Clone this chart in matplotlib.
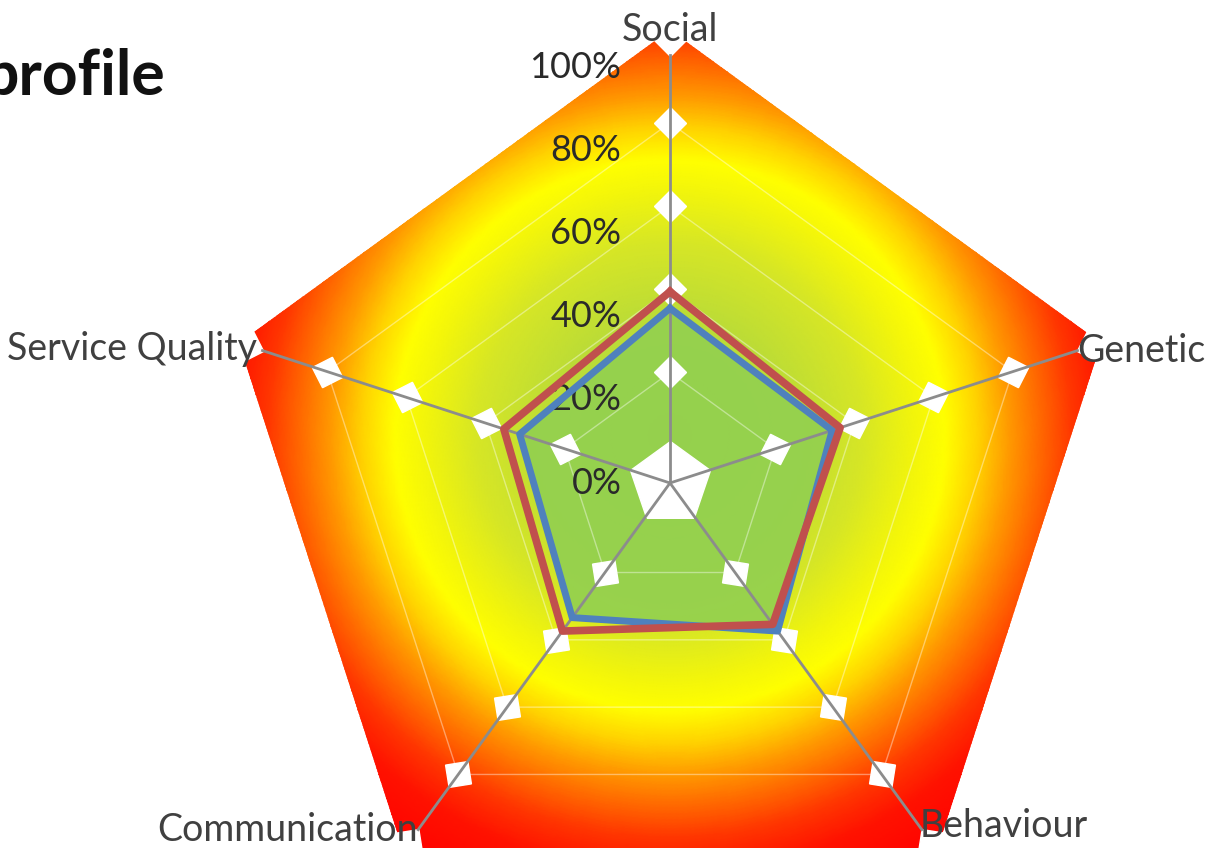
import numpy as np
import matplotlib
matplotlib.use("Agg")
import matplotlib.pyplot as plt
from matplotlib.colors import LinearSegmentedColormap, Normalize

# ---------------------------------------------------------------------------
# Data
# ---------------------------------------------------------------------------
categories = ["Social", "Genetic", "Behaviour", "Communication", "Service Quality"]
series_blue = [0.42, 0.41, 0.44, 0.40, 0.38]
series_red = [0.46, 0.43, 0.42, 0.44, 0.42]
tick_values = [0.0, 0.2, 0.4, 0.6, 0.8, 1.0]
tick_labels = ["0%", "20%", "40%", "60%", "80%", "100%"]
marker_levels = [0.266, 0.466, 0.666, 0.866, 1.066]
title = "profile"

# ---------------------------------------------------------------------------
# Layout (px)
# ---------------------------------------------------------------------------
W, H = 1209, 848
cx, cy = 670, 483          # chart centre, from top-left
unit = 416                 # px per 1.0 (100%)
rmax = 1.2
R_BG = 1.09

fig = plt.figure(figsize=(W / 100, H / 100), dpi=100)
side = 2 * rmax * unit
ax = fig.add_axes([(cx - side / 2) / W, (H - cy - side / 2) / H, side / W, side / H],
                  projection="polar")
ax.set_theta_zero_location("N")
ax.set_theta_direction(-1)
ax.set_ylim(0, rmax)
ax.axis("off")

n = len(categories)
angles = np.arange(n) * 2 * np.pi / n
closed = np.r_[angles, angles[:1]]

# background pentagon with radial gradient (centre slightly above chart centre)
stops = [(0.00, "#b2d93c"), (0.30, "#bcdc36"), (0.48, "#d6e626"), (0.62, "#f4f60a"),
         (0.69, "#ffff00"), (0.77, "#ffd400"), (0.85, "#ff9a00"), (0.93, "#ff6800"),
         (1.01, "#ff3600"), (1.10, "#ff1200"), (1.25, "#ff0000")]
grad = LinearSegmentedColormap.from_list("grad", [(p / 1.25, c) for p, c in stops])
T, Rg = np.meshgrid(np.linspace(0, 2 * np.pi, 361), np.linspace(0, R_BG + 0.02, 160))
gx, gy = Rg * np.sin(T), Rg * np.cos(T)
D = np.hypot(gx, gy - 0.115) / 0.96
bg = ax.fill(closed, [R_BG] * (n + 1), facecolor="none", edgecolor="none")[0]
mesh = ax.pcolormesh(T, Rg, D, cmap=grad, norm=Normalize(0, 1.25), shading="gouraud", zorder=1)
mesh.set_clip_path(bg)

# green area inside the blue series
ax.fill(closed, series_blue + series_blue[:1], color="#92d050", alpha=0.9, lw=0, zorder=2)

# faint white gridlines and white markers
for lev in marker_levels[:-1]:
    ax.plot(closed, [lev] * (n + 1), color="white", lw=1, alpha=0.4, zorder=2.5)
for i, a in enumerate(angles):
    ax.plot([a] * len(marker_levels), marker_levels, ls="none",
            marker=(4, 0, -72 * i), ms=23, mfc="white", mec="white", zorder=3)
ax.plot([0], [0], ls="none", marker="p", ms=60, mfc="white", mec="white", zorder=3)

# spokes
for a in angles:
    ax.plot([a, a], [0, 1.03], color="#8c8c8c", lw=2, zorder=4)

# series
ax.plot(closed, series_blue + series_blue[:1], color="#4f81bd", lw=5, zorder=5)
ax.plot(closed, series_red + series_red[:1], color="#c0504d", lw=5.5, zorder=6)

# value labels
for v, lab in zip(tick_values, tick_labels):
    ax.annotate(lab, (0, v), xytext=(-35, 0), textcoords="offset points",
                ha="right", va="center", fontsize=26, color="#2a2a2a", family="Lato")

# category labels
lab_kw = dict(fontsize=27, color="#404040", family="Lato", va="center")
ax.text(angles[0], 1.09, categories[0], ha="center", **lab_kw)
ax.text(angles[1], 1.03, categories[1], ha="left", **lab_kw)
ax.text(angles[2], 1.02, categories[2], ha="left", **lab_kw)
ax.text(angles[3], 1.03, categories[3], ha="right", **lab_kw)
ax.text(angles[4], 1.045, categories[4], ha="right", **lab_kw)

# title is cut at the left edge, as in the source picture
fig.text(165 / W, 1 - 95 / H, title, ha="right", va="baseline",
         fontsize=45, fontweight="bold", family="Lato", color="#111111")

fig.savefig("out.png", dpi=100)
